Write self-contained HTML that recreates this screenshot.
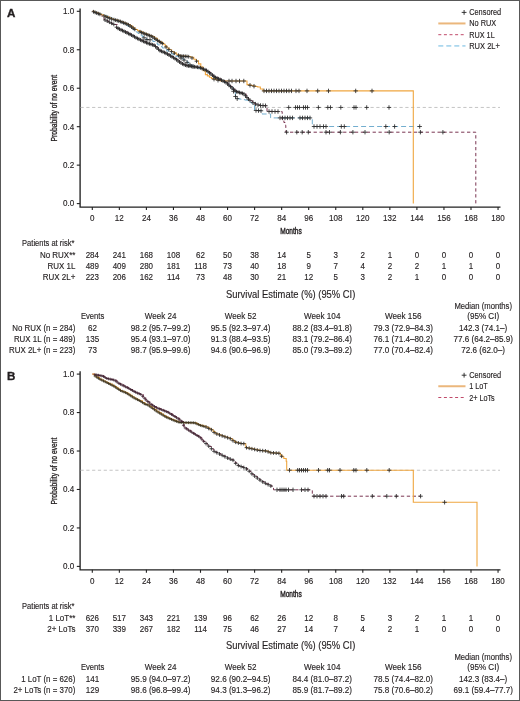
<!DOCTYPE html><html><head><meta charset="utf-8"><style>html,body{margin:0;padding:0;background:#fff;}svg{display:block;will-change:transform}text:not([stroke]){stroke:#231f20;stroke-width:0.14px}</style></head><body>
<svg width="520" height="701" viewBox="0 0 520 701" font-family="Liberation Sans, sans-serif" fill="#231f20">
<rect x="0" y="0" width="520" height="701" fill="#fff"/>
<text x="7.1" y="16.9" font-size="11.6" font-weight="bold" stroke="#231f20" stroke-width="0.35">A</text>
<path d="M80.1 8.5 V207.1 H500.5" fill="none" stroke="#222" stroke-width="1.35"/><path d="M76.8 203.6H80" stroke="#222" stroke-width="1.1"/><text x="63.09" y="206.45" font-size="8.4" textLength="11.21" lengthAdjust="spacingAndGlyphs">0.0</text><path d="M76.8 165.14H80" stroke="#222" stroke-width="1.1"/><text x="63.09" y="167.99" font-size="8.4" textLength="11.21" lengthAdjust="spacingAndGlyphs">0.2</text><path d="M76.8 126.68H80" stroke="#222" stroke-width="1.1"/><text x="63.09" y="129.53" font-size="8.4" textLength="11.21" lengthAdjust="spacingAndGlyphs">0.4</text><path d="M76.8 88.22H80" stroke="#222" stroke-width="1.1"/><text x="63.09" y="91.07" font-size="8.4" textLength="11.21" lengthAdjust="spacingAndGlyphs">0.6</text><path d="M76.8 49.76H80" stroke="#222" stroke-width="1.1"/><text x="63.09" y="52.61" font-size="8.4" textLength="11.21" lengthAdjust="spacingAndGlyphs">0.8</text><path d="M76.8 11.3H80" stroke="#222" stroke-width="1.1"/><text x="63.09" y="14.15" font-size="8.4" textLength="11.21" lengthAdjust="spacingAndGlyphs">1.0</text><path d="M92.3 207V210" stroke="#222" stroke-width="1.1"/><text x="90.06" y="220.90" font-size="8.4" textLength="4.48" lengthAdjust="spacingAndGlyphs">0</text><path d="M119.35 207V210" stroke="#222" stroke-width="1.1"/><text x="114.87" y="220.90" font-size="8.4" textLength="8.97" lengthAdjust="spacingAndGlyphs">12</text><path d="M146.4 207V210" stroke="#222" stroke-width="1.1"/><text x="141.92" y="220.90" font-size="8.4" textLength="8.97" lengthAdjust="spacingAndGlyphs">24</text><path d="M173.45 207V210" stroke="#222" stroke-width="1.1"/><text x="168.97" y="220.90" font-size="8.4" textLength="8.97" lengthAdjust="spacingAndGlyphs">36</text><path d="M200.5 207V210" stroke="#222" stroke-width="1.1"/><text x="196.02" y="220.90" font-size="8.4" textLength="8.97" lengthAdjust="spacingAndGlyphs">48</text><path d="M227.55 207V210" stroke="#222" stroke-width="1.1"/><text x="223.07" y="220.90" font-size="8.4" textLength="8.97" lengthAdjust="spacingAndGlyphs">60</text><path d="M254.6 207V210" stroke="#222" stroke-width="1.1"/><text x="250.12" y="220.90" font-size="8.4" textLength="8.97" lengthAdjust="spacingAndGlyphs">72</text><path d="M281.65 207V210" stroke="#222" stroke-width="1.1"/><text x="277.17" y="220.90" font-size="8.4" textLength="8.97" lengthAdjust="spacingAndGlyphs">84</text><path d="M308.7 207V210" stroke="#222" stroke-width="1.1"/><text x="304.22" y="220.90" font-size="8.4" textLength="8.97" lengthAdjust="spacingAndGlyphs">96</text><path d="M335.75 207V210" stroke="#222" stroke-width="1.1"/><text x="329.02" y="220.90" font-size="8.4" textLength="13.45" lengthAdjust="spacingAndGlyphs">108</text><path d="M362.8 207V210" stroke="#222" stroke-width="1.1"/><text x="356.07" y="220.90" font-size="8.4" textLength="13.45" lengthAdjust="spacingAndGlyphs">120</text><path d="M389.85 207V210" stroke="#222" stroke-width="1.1"/><text x="383.12" y="220.90" font-size="8.4" textLength="13.45" lengthAdjust="spacingAndGlyphs">132</text><path d="M416.9 207V210" stroke="#222" stroke-width="1.1"/><text x="410.17" y="220.90" font-size="8.4" textLength="13.45" lengthAdjust="spacingAndGlyphs">144</text><path d="M443.95 207V210" stroke="#222" stroke-width="1.1"/><text x="437.22" y="220.90" font-size="8.4" textLength="13.45" lengthAdjust="spacingAndGlyphs">156</text><path d="M471 207V210" stroke="#222" stroke-width="1.1"/><text x="464.27" y="220.90" font-size="8.4" textLength="13.45" lengthAdjust="spacingAndGlyphs">168</text><path d="M498.05 207V210" stroke="#222" stroke-width="1.1"/><text x="491.32" y="220.90" font-size="8.4" textLength="13.45" lengthAdjust="spacingAndGlyphs">180</text><text x="280.20" y="233.70" font-size="9.3" textLength="21.50" lengthAdjust="spacingAndGlyphs" stroke="#231f20" stroke-width="0.45">Months</text><text transform="translate(56.6 108.2) rotate(-90)" x="-33.4" y="0" font-size="8.3" textLength="66.8" lengthAdjust="spacingAndGlyphs" stroke="#231f20" stroke-width="0.3">Probability of no event</text><path d="M80.5 107.45H500" stroke="#BDBDBD" stroke-width="0.9" stroke-dasharray="3.2 2.6"/>
<g fill="none" stroke-width="1">
<path d="M92.3 11.3H94.42V12H96.53V12.7H98.65V13.4H100.77V14.1H102.88V14.8H105V15.5H107.06V16.39H109.11V17.27H111.17V18.16H113.23V19.04H115.29V19.93H117.34V20.81H119.4V21.7H121.52V22.86H123.64V24.02H125.76V25.18H127.88V26.34H130V27.5H132V29H134V30.5H136V32H138V33.5H140V35H142.13V36.5H144.27V38H146.4V39.5H148.4V39.65H150.4V39.8H152.8V41.47H155.2V43.15H157.6V44.83H160V46.5H162.25V48H164.5V49.5H166.75V51H169V52.5H171.25V54H173.5V55.5H175.93V56.33H178.37V57.17H180.8V58H183.1V59.5H185.4V61H187.7V63H190V65H192.5V66.25H195V67.5H197.5V68.25H200V69H202.12V70H204.25V71H206.38V72H208.5V73H211.07V74.83H213.63V76.67H216.2V78.5H218.73V79.77H221.27V81.03H223.8V82.3H225.87V83.6H227.93V84.9H230V86.2H233V90H235.4V96.2H236.2V98.5H238.46V98.9H240.72V99.3H242.98V99.7H245.24V100.1H247.5V100.5H249.75V102.25H252V104H254.5V110.4H257V110.53H259.5V110.67H262V110.8V114H270.6V117.9H312.3V126.5H419.8" stroke="#5A9FC6" stroke-width="0.85" stroke-dasharray="5 3"/>
<path d="M92.3 11.3H94.22V12.1H96.15V12.9H98.08V13.7H100V14.5H102V17H104V19.5H106V20.5H108V21.5H110V22.5H112V23.5H114V24.5H117.2V28H119.15V28.95H121.1V29.9H123.05V30.85H125V31.8H127.57V33.1H130.13V34.4H132.7V35.7H134.6V36.85H136.5V38H138.57V39H140.63V40H142.7V41H145.35V42.2H148V43.4H150.07V44.03H152.13V44.67H154.2V45.3H156.13V47.1H158.07V48.9H160V50.7H161.9V51.45H163.8V52.2H165.75V53.2H167.7V54.2H169.6V55.35H171.5V56.5H173.45V57.65H175.4V58.8H177.3V60.3H179.2V61.8H181.1V63H183V64.2H185V64.95H187V65.7H189.17V66.02H191.33V66.33H193.5V66.65H195.67V66.97H197.83V67.28H200V67.6H202.17V68.53H204.33V69.47H206.5V70.4H208.45V71.95H210.4V73.5H212.7V75.4H215V77.3H217.7V78.45H220.4V79.6H223.1V80.95H225.8V82.3H227.9V84.25H230V86.2H232V87.97H234V89.73H236V91.5H237.95V92.08H239.9V92.65H241.85V93.22H243.8V93.8H246.15V96.5H248.5V99.2H250.53V100.73H252.57V102.27H254.6V103.8H256.9V104.6H259.2V105.4H261.73V105.53H264.27V105.67H266.8V105.8H267V111.4H269.07V111.43H271.14V111.46H273.21V111.49H275.29V111.51H277.36V111.54H279.43V111.57H281.5V111.6H282.2V119.6H283.9V122.5H285.6V125.4H285.8V132.2H475.8V203.6" stroke="#7A3552" stroke-dasharray="3.3 2.6"/>
<path d="M92.3 11.3H94.52V12.18H96.74V13.06H98.96V13.94H101.18V14.82H103.4V15.7H105.93V16.73H108.47V17.77H111V18.8H113.33V19.48H115.65V20.15H117.97V20.82H120.3V21.5H122.22V22.25H124.15V23H126.08V23.75H128V24.5H130.33V26.17H132.67V27.83H135V29.5H137.57V30.67H140.13V31.83H142.7V33H145.02V33.88H147.35V34.75H149.68V35.62H152V36.5H154.65V38.4H157.3V40.3H159.37V41.6H161.43V42.9H163.5V44.2H165.2V46.1H166.9V48H169.2V49.75H171.5V51.5H173.85V52.85H176.2V54.2H178.1V55.1H180V56H182.57V56.17H185.13V56.33H187.7V56.5H190.8V57.2H193.8V59.2H196.2V60.8H198.5V63.9H200.8V67H203.1V70.8H205.4V74.6H207.43V75.9H209.47V77.2H211.5V78.5H213.82V79.12H216.15V79.75H218.48V80.38H220.8V81H245H247V84.6H249.14V85.08H251.28V85.56H253.42V86.04H255.56V86.52H257.7V87H260.35V88.95H263V90.9H413.3V203.6" stroke="#EFA640" stroke-width="1.1"/>
</g>
<path d="M91.6 11.78h3.8M93.5 9.88v3.8" stroke="#2a2a2a" stroke-width="0.85"/><path d="M93.2 12.41h3.8M95.1 10.51v3.8" stroke="#2a2a2a" stroke-width="0.85"/><path d="M94.8 13.04h3.8M96.7 11.14v3.8" stroke="#2a2a2a" stroke-width="0.85"/><path d="M96.4 13.68h3.8M98.3 11.78v3.8" stroke="#2a2a2a" stroke-width="0.85"/><path d="M98 14.31h3.8M99.9 12.41v3.8" stroke="#2a2a2a" stroke-width="0.85"/><path d="M102.1 15.94h3.8M104 14.04v3.8" stroke="#2a2a2a" stroke-width="0.85"/><path d="M104 16.72h3.8M105.9 14.82v3.8" stroke="#2a2a2a" stroke-width="0.85"/><path d="M105.9 17.49h3.8M107.8 15.59v3.8" stroke="#2a2a2a" stroke-width="0.85"/><path d="M107.8 18.27h3.8M109.7 16.37v3.8" stroke="#2a2a2a" stroke-width="0.85"/><path d="M109.7 18.97h3.8M111.6 17.07v3.8" stroke="#2a2a2a" stroke-width="0.85"/><path d="M112.1 19.67h3.8M114 17.77v3.8" stroke="#2a2a2a" stroke-width="0.85"/><path d="M113.7 20.14h3.8M115.6 18.24v3.8" stroke="#2a2a2a" stroke-width="0.85"/><path d="M115.3 20.6h3.8M117.2 18.7v3.8" stroke="#2a2a2a" stroke-width="0.85"/><path d="M116.9 21.06h3.8M118.8 19.16v3.8" stroke="#2a2a2a" stroke-width="0.85"/><path d="M118.5 21.54h3.8M120.4 19.64v3.8" stroke="#2a2a2a" stroke-width="0.85"/><path d="M120.1 22.16h3.8M122 20.26v3.8" stroke="#2a2a2a" stroke-width="0.85"/><path d="M121.7 22.79h3.8M123.6 20.89v3.8" stroke="#2a2a2a" stroke-width="0.85"/><path d="M123.3 23.41h3.8M125.2 21.51v3.8" stroke="#2a2a2a" stroke-width="0.85"/><path d="M124.9 24.03h3.8M126.8 22.13v3.8" stroke="#2a2a2a" stroke-width="0.85"/><path d="M126.5 24.79h3.8M128.4 22.89v3.8" stroke="#2a2a2a" stroke-width="0.85"/><path d="M128.1 25.93h3.8M130 24.03v3.8" stroke="#2a2a2a" stroke-width="0.85"/><path d="M129.7 27.07h3.8M131.6 25.17v3.8" stroke="#2a2a2a" stroke-width="0.85"/><path d="M131.3 28.21h3.8M133.2 26.31v3.8" stroke="#2a2a2a" stroke-width="0.85"/><path d="M132.9 29.36h3.8M134.8 27.46v3.8" stroke="#2a2a2a" stroke-width="0.85"/><path d="M138.1 31.77h3.8M140 29.87v3.8" stroke="#2a2a2a" stroke-width="0.85"/><path d="M139.7 32.5h3.8M141.6 30.6v3.8" stroke="#2a2a2a" stroke-width="0.85"/><path d="M141.3 33.19h3.8M143.2 31.29v3.8" stroke="#2a2a2a" stroke-width="0.85"/><path d="M142.9 33.79h3.8M144.8 31.89v3.8" stroke="#2a2a2a" stroke-width="0.85"/><path d="M144.5 34.39h3.8M146.4 32.49v3.8" stroke="#2a2a2a" stroke-width="0.85"/><path d="M146.1 34.99h3.8M148 33.09v3.8" stroke="#2a2a2a" stroke-width="0.85"/><path d="M147.7 35.6h3.8M149.6 33.7v3.8" stroke="#2a2a2a" stroke-width="0.85"/><path d="M149.3 36.2h3.8M151.2 34.3v3.8" stroke="#2a2a2a" stroke-width="0.85"/><path d="M150.9 37.07h3.8M152.8 35.17v3.8" stroke="#2a2a2a" stroke-width="0.85"/><path d="M152.5 38.22h3.8M154.4 36.32v3.8" stroke="#2a2a2a" stroke-width="0.85"/><path d="M154.1 39.37h3.8M156 37.47v3.8" stroke="#2a2a2a" stroke-width="0.85"/><path d="M155.7 40.49h3.8M157.6 38.59v3.8" stroke="#2a2a2a" stroke-width="0.85"/><path d="M157.3 41.5h3.8M159.2 39.6v3.8" stroke="#2a2a2a" stroke-width="0.85"/><path d="M158.9 42.5h3.8M160.8 40.6v3.8" stroke="#2a2a2a" stroke-width="0.85"/><path d="M160.5 43.51h3.8M162.4 41.61v3.8" stroke="#2a2a2a" stroke-width="0.85"/><path d="M164.1 46.99h3.8M166 45.09v3.8" stroke="#2a2a2a" stroke-width="0.85"/><path d="M166.9 49.45h3.8M168.8 47.55v3.8" stroke="#2a2a2a" stroke-width="0.85"/><path d="M169.7 51.56h3.8M171.6 49.66v3.8" stroke="#2a2a2a" stroke-width="0.85"/><path d="M172.5 53.17h3.8M174.4 51.27v3.8" stroke="#2a2a2a" stroke-width="0.85"/><path d="M176.6 55.29h3.8M178.5 53.39v3.8" stroke="#2a2a2a" stroke-width="0.85"/><path d="M178.3 56.01h3.8M180.2 54.11v3.8" stroke="#2a2a2a" stroke-width="0.85"/><path d="M180 56.12h3.8M181.9 54.22v3.8" stroke="#2a2a2a" stroke-width="0.85"/><path d="M181.7 56.23h3.8M183.6 54.33v3.8" stroke="#2a2a2a" stroke-width="0.85"/><path d="M183.4 56.34h3.8M185.3 54.44v3.8" stroke="#2a2a2a" stroke-width="0.85"/><path d="M185.1 56.45h3.8M187 54.55v3.8" stroke="#2a2a2a" stroke-width="0.85"/><path d="M186.8 56.73h3.8M188.7 54.83v3.8" stroke="#2a2a2a" stroke-width="0.85"/><path d="M190.1 58h3.8M192 56.1v3.8" stroke="#2a2a2a" stroke-width="0.85"/><path d="M194.6 61.2h3.8M196.5 59.3v3.8" stroke="#2a2a2a" stroke-width="0.85"/><path d="M211.8 79.17h4.4M214 76.97v4.4" stroke="#2b2b2b" stroke-width="0.85"/><path d="M215.8 80.25h4.4M218 78.05v4.4" stroke="#2b2b2b" stroke-width="0.85"/><path d="M226.8 81h4.4M229 78.8v4.4" stroke="#2b2b2b" stroke-width="0.85"/><path d="M229.8 81h4.4M232 78.8v4.4" stroke="#2b2b2b" stroke-width="0.85"/><path d="M233.8 81h4.4M236 78.8v4.4" stroke="#2b2b2b" stroke-width="0.85"/><path d="M237.3 81h4.4M239.5 78.8v4.4" stroke="#2b2b2b" stroke-width="0.85"/><path d="M241.6 81h4.4M243.8 78.8v4.4" stroke="#2b2b2b" stroke-width="0.85"/><path d="M247.8 85.27h4.4M250 83.07v4.4" stroke="#2b2b2b" stroke-width="0.85"/><path d="M251.8 86.17h4.4M254 83.97v4.4" stroke="#2b2b2b" stroke-width="0.85"/><path d="M261.8 90.9h4.4M264 88.7v4.4" stroke="#2b2b2b" stroke-width="0.85"/><path d="M264.3 90.9h4.4M266.5 88.7v4.4" stroke="#2b2b2b" stroke-width="0.85"/><path d="M266.8 90.9h4.4M269 88.7v4.4" stroke="#2b2b2b" stroke-width="0.85"/><path d="M269.3 90.9h4.4M271.5 88.7v4.4" stroke="#2b2b2b" stroke-width="0.85"/><path d="M271.8 90.9h4.4M274 88.7v4.4" stroke="#2b2b2b" stroke-width="0.85"/><path d="M274.3 90.9h4.4M276.5 88.7v4.4" stroke="#2b2b2b" stroke-width="0.85"/><path d="M276.8 90.9h4.4M279 88.7v4.4" stroke="#2b2b2b" stroke-width="0.85"/><path d="M279.3 90.9h4.4M281.5 88.7v4.4" stroke="#2b2b2b" stroke-width="0.85"/><path d="M281.8 90.9h4.4M284 88.7v4.4" stroke="#2b2b2b" stroke-width="0.85"/><path d="M284.3 90.9h4.4M286.5 88.7v4.4" stroke="#2b2b2b" stroke-width="0.85"/><path d="M286.8 90.9h4.4M289 88.7v4.4" stroke="#2b2b2b" stroke-width="0.85"/><path d="M289.3 90.9h4.4M291.5 88.7v4.4" stroke="#2b2b2b" stroke-width="0.85"/><path d="M293.8 90.9h4.4M296 88.7v4.4" stroke="#2b2b2b" stroke-width="0.85"/><path d="M296.8 90.9h4.4M299 88.7v4.4" stroke="#2b2b2b" stroke-width="0.85"/><path d="M304.8 90.9h4.4M307 88.7v4.4" stroke="#2b2b2b" stroke-width="0.85"/><path d="M315.5 90.9h4.4M317.7 88.7v4.4" stroke="#2b2b2b" stroke-width="0.85"/><path d="M326.3 90.9h4.4M328.5 88.7v4.4" stroke="#2b2b2b" stroke-width="0.85"/><path d="M353.5 90.9h4.4M355.7 88.7v4.4" stroke="#2b2b2b" stroke-width="0.85"/><path d="M369.8 90.9h4.4M372 88.7v4.4" stroke="#2b2b2b" stroke-width="0.85"/><path d="M103.1 20h3.8M105 18.1v3.8" stroke="#2a2a2a" stroke-width="0.85"/><path d="M105.3 21.1h3.8M107.2 19.2v3.8" stroke="#2a2a2a" stroke-width="0.85"/><path d="M107.5 22.2h3.8M109.4 20.3v3.8" stroke="#2a2a2a" stroke-width="0.85"/><path d="M109.7 23.3h3.8M111.6 21.4v3.8" stroke="#2a2a2a" stroke-width="0.85"/><path d="M111.9 24.4h3.8M113.8 22.5v3.8" stroke="#2a2a2a" stroke-width="0.85"/><path d="M114.6 27.23h3.8M116.5 25.33v3.8" stroke="#2a2a2a" stroke-width="0.85"/><path d="M116.1 28.39h3.8M118 26.49v3.8" stroke="#2a2a2a" stroke-width="0.85"/><path d="M117.6 29.12h3.8M119.5 27.22v3.8" stroke="#2a2a2a" stroke-width="0.85"/><path d="M119.1 29.85h3.8M121 27.95v3.8" stroke="#2a2a2a" stroke-width="0.85"/><path d="M120.6 30.58h3.8M122.5 28.68v3.8" stroke="#2a2a2a" stroke-width="0.85"/><path d="M122.1 31.31h3.8M124 29.41v3.8" stroke="#2a2a2a" stroke-width="0.85"/><path d="M123.6 32.05h3.8M125.5 30.15v3.8" stroke="#2a2a2a" stroke-width="0.85"/><path d="M125.1 32.81h3.8M127 30.91v3.8" stroke="#2a2a2a" stroke-width="0.85"/><path d="M126.6 33.57h3.8M128.5 31.67v3.8" stroke="#2a2a2a" stroke-width="0.85"/><path d="M128.1 34.33h3.8M130 32.43v3.8" stroke="#2a2a2a" stroke-width="0.85"/><path d="M129.6 35.09h3.8M131.5 33.19v3.8" stroke="#2a2a2a" stroke-width="0.85"/><path d="M131.1 35.88h3.8M133 33.98v3.8" stroke="#2a2a2a" stroke-width="0.85"/><path d="M132.6 36.79h3.8M134.5 34.89v3.8" stroke="#2a2a2a" stroke-width="0.85"/><path d="M134.1 37.7h3.8M136 35.8v3.8" stroke="#2a2a2a" stroke-width="0.85"/><path d="M135.6 38.48h3.8M137.5 36.58v3.8" stroke="#2a2a2a" stroke-width="0.85"/><path d="M137.1 39.21h3.8M139 37.31v3.8" stroke="#2a2a2a" stroke-width="0.85"/><path d="M138.6 39.94h3.8M140.5 38.04v3.8" stroke="#2a2a2a" stroke-width="0.85"/><path d="M140.1 40.66h3.8M142 38.76v3.8" stroke="#2a2a2a" stroke-width="0.85"/><path d="M141.6 41.36h3.8M143.5 39.46v3.8" stroke="#2a2a2a" stroke-width="0.85"/><path d="M143.1 42.04h3.8M145 40.14v3.8" stroke="#2a2a2a" stroke-width="0.85"/><path d="M144.6 42.72h3.8M146.5 40.82v3.8" stroke="#2a2a2a" stroke-width="0.85"/><path d="M146.1 43.4h3.8M148 41.5v3.8" stroke="#2a2a2a" stroke-width="0.85"/><path d="M147.6 43.86h3.8M149.5 41.96v3.8" stroke="#2a2a2a" stroke-width="0.85"/><path d="M149.1 44.32h3.8M151 42.42v3.8" stroke="#2a2a2a" stroke-width="0.85"/><path d="M150.6 44.78h3.8M152.5 42.88v3.8" stroke="#2a2a2a" stroke-width="0.85"/><path d="M152.1 45.24h3.8M154 43.34v3.8" stroke="#2a2a2a" stroke-width="0.85"/><path d="M153.6 46.51h3.8M155.5 44.61v3.8" stroke="#2a2a2a" stroke-width="0.85"/><path d="M155.1 47.91h3.8M157 46.01v3.8" stroke="#2a2a2a" stroke-width="0.85"/><path d="M156.6 49.3h3.8M158.5 47.4v3.8" stroke="#2a2a2a" stroke-width="0.85"/><path d="M158.1 50.7h3.8M160 48.8v3.8" stroke="#2a2a2a" stroke-width="0.85"/><path d="M159.6 51.29h3.8M161.5 49.39v3.8" stroke="#2a2a2a" stroke-width="0.85"/><path d="M161.1 51.88h3.8M163 49.98v3.8" stroke="#2a2a2a" stroke-width="0.85"/><path d="M162.6 52.56h3.8M164.5 50.66v3.8" stroke="#2a2a2a" stroke-width="0.85"/><path d="M164.1 53.33h3.8M166 51.43v3.8" stroke="#2a2a2a" stroke-width="0.85"/><path d="M165.6 54.1h3.8M167.5 52.2v3.8" stroke="#2a2a2a" stroke-width="0.85"/><path d="M167.1 54.99h3.8M169 53.09v3.8" stroke="#2a2a2a" stroke-width="0.85"/><path d="M168.6 55.89h3.8M170.5 53.99v3.8" stroke="#2a2a2a" stroke-width="0.85"/><path d="M170.1 56.79h3.8M172 54.89v3.8" stroke="#2a2a2a" stroke-width="0.85"/><path d="M171.6 57.68h3.8M173.5 55.78v3.8" stroke="#2a2a2a" stroke-width="0.85"/><path d="M173.1 58.56h3.8M175 56.66v3.8" stroke="#2a2a2a" stroke-width="0.85"/><path d="M174.6 59.67h3.8M176.5 57.77v3.8" stroke="#2a2a2a" stroke-width="0.85"/><path d="M176.1 60.85h3.8M178 58.95v3.8" stroke="#2a2a2a" stroke-width="0.85"/><path d="M177.6 61.99h3.8M179.5 60.09v3.8" stroke="#2a2a2a" stroke-width="0.85"/><path d="M179.1 62.94h3.8M181 61.04v3.8" stroke="#2a2a2a" stroke-width="0.85"/><path d="M180.6 63.88h3.8M182.5 61.98v3.8" stroke="#2a2a2a" stroke-width="0.85"/><path d="M182.1 64.58h3.8M184 62.68v3.8" stroke="#2a2a2a" stroke-width="0.85"/><path d="M183.6 65.14h3.8M185.5 63.24v3.8" stroke="#2a2a2a" stroke-width="0.85"/><path d="M185.1 65.7h3.8M187 63.8v3.8" stroke="#2a2a2a" stroke-width="0.85"/><path d="M186.6 65.92h3.8M188.5 64.02v3.8" stroke="#2a2a2a" stroke-width="0.85"/><path d="M188.1 66.14h3.8M190 64.24v3.8" stroke="#2a2a2a" stroke-width="0.85"/><path d="M189.6 66.36h3.8M191.5 64.46v3.8" stroke="#2a2a2a" stroke-width="0.85"/><path d="M191.1 66.58h3.8M193 64.68v3.8" stroke="#2a2a2a" stroke-width="0.85"/><path d="M192.6 66.8h3.8M194.5 64.9v3.8" stroke="#2a2a2a" stroke-width="0.85"/><path d="M194.1 67.02h3.8M196 65.12v3.8" stroke="#2a2a2a" stroke-width="0.85"/><path d="M195.6 67.23h3.8M197.5 65.33v3.8" stroke="#2a2a2a" stroke-width="0.85"/><path d="M197.1 67.45h3.8M199 65.55v3.8" stroke="#2a2a2a" stroke-width="0.85"/><path d="M198.6 67.82h3.8M200.5 65.92v3.8" stroke="#2a2a2a" stroke-width="0.85"/><path d="M200.1 68.46h3.8M202 66.56v3.8" stroke="#2a2a2a" stroke-width="0.85"/><path d="M201.6 69.11h3.8M203.5 67.21v3.8" stroke="#2a2a2a" stroke-width="0.85"/><path d="M203.1 69.75h3.8M205 67.85v3.8" stroke="#2a2a2a" stroke-width="0.85"/><path d="M204.6 70.4h3.8M206.5 68.5v3.8" stroke="#2a2a2a" stroke-width="0.85"/><path d="M206.1 71.59h3.8M208 69.69v3.8" stroke="#2a2a2a" stroke-width="0.85"/><path d="M207.6 72.78h3.8M209.5 70.88v3.8" stroke="#2a2a2a" stroke-width="0.85"/><path d="M209.1 74h3.8M211 72.1v3.8" stroke="#2a2a2a" stroke-width="0.85"/><path d="M210.6 75.23h3.8M212.5 73.33v3.8" stroke="#2a2a2a" stroke-width="0.85"/><path d="M212.1 76.47h3.8M214 74.57v3.8" stroke="#2a2a2a" stroke-width="0.85"/><path d="M213.6 77.51h3.8M215.5 75.61v3.8" stroke="#2a2a2a" stroke-width="0.85"/><path d="M215.1 78.15h3.8M217 76.25v3.8" stroke="#2a2a2a" stroke-width="0.85"/><path d="M216.6 78.79h3.8M218.5 76.89v3.8" stroke="#2a2a2a" stroke-width="0.85"/><path d="M218.1 79.43h3.8M220 77.53v3.8" stroke="#2a2a2a" stroke-width="0.85"/><path d="M219.6 80.15h3.8M221.5 78.25v3.8" stroke="#2a2a2a" stroke-width="0.85"/><path d="M221.1 80.9h3.8M223 79v3.8" stroke="#2a2a2a" stroke-width="0.85"/><path d="M222.6 81.65h3.8M224.5 79.75v3.8" stroke="#2a2a2a" stroke-width="0.85"/><path d="M224.1 82.49h3.8M226 80.59v3.8" stroke="#2a2a2a" stroke-width="0.85"/><path d="M225.6 83.88h3.8M227.5 81.98v3.8" stroke="#2a2a2a" stroke-width="0.85"/><path d="M227.1 85.27h3.8M229 83.37v3.8" stroke="#2a2a2a" stroke-width="0.85"/><path d="M228.6 86.64h3.8M230.5 84.74v3.8" stroke="#2a2a2a" stroke-width="0.85"/><path d="M230.1 87.97h3.8M232 86.07v3.8" stroke="#2a2a2a" stroke-width="0.85"/><path d="M231.6 89.29h3.8M233.5 87.39v3.8" stroke="#2a2a2a" stroke-width="0.85"/><path d="M233.1 90.62h3.8M235 88.72v3.8" stroke="#2a2a2a" stroke-width="0.85"/><path d="M234.6 91.65h3.8M236.5 89.75v3.8" stroke="#2a2a2a" stroke-width="0.85"/><path d="M236.1 92.09h3.8M238 90.19v3.8" stroke="#2a2a2a" stroke-width="0.85"/><path d="M237.6 92.53h3.8M239.5 90.63v3.8" stroke="#2a2a2a" stroke-width="0.85"/><path d="M239.1 92.97h3.8M241 91.07v3.8" stroke="#2a2a2a" stroke-width="0.85"/><path d="M240.6 93.42h3.8M242.5 91.52v3.8" stroke="#2a2a2a" stroke-width="0.85"/><path d="M242.1 94.03h3.8M244 92.13v3.8" stroke="#2a2a2a" stroke-width="0.85"/><path d="M243.6 95.75h3.8M245.5 93.85v3.8" stroke="#2a2a2a" stroke-width="0.85"/><path d="M245.1 97.48h3.8M247 95.58v3.8" stroke="#2a2a2a" stroke-width="0.85"/><path d="M246.6 99.2h3.8M248.5 97.3v3.8" stroke="#2a2a2a" stroke-width="0.85"/><path d="M248.1 100.33h3.8M250 98.43v3.8" stroke="#2a2a2a" stroke-width="0.85"/><path d="M250.8 102.59h4.4M253 100.39v4.4" stroke="#2b2b2b" stroke-width="0.85"/><path d="M253.3 104.11h4.4M255.5 101.91v4.4" stroke="#2b2b2b" stroke-width="0.85"/><path d="M255.8 104.98h4.4M258 102.78v4.4" stroke="#2b2b2b" stroke-width="0.85"/><path d="M258.3 105.47h4.4M260.5 103.27v4.4" stroke="#2b2b2b" stroke-width="0.85"/><path d="M260.8 105.6h4.4M263 103.4v4.4" stroke="#2b2b2b" stroke-width="0.85"/><path d="M263.3 105.73h4.4M265.5 103.53v4.4" stroke="#2b2b2b" stroke-width="0.85"/><path d="M266.8 111.43h4.4M269 109.23v4.4" stroke="#2b2b2b" stroke-width="0.85"/><path d="M269.8 111.47h4.4M272 109.27v4.4" stroke="#2b2b2b" stroke-width="0.85"/><path d="M272.8 111.51h4.4M275 109.31v4.4" stroke="#2b2b2b" stroke-width="0.85"/><path d="M275.8 111.55h4.4M278 109.35v4.4" stroke="#2b2b2b" stroke-width="0.85"/><path d="M284.4 132.2h4.4M286.6 130v4.4" stroke="#2b2b2b" stroke-width="0.85"/><path d="M294.6 132.2h4.4M296.8 130v4.4" stroke="#2b2b2b" stroke-width="0.85"/><path d="M300 132.2h4.4M302.2 130v4.4" stroke="#2b2b2b" stroke-width="0.85"/><path d="M306.1 132.2h4.4M308.3 130v4.4" stroke="#2b2b2b" stroke-width="0.85"/><path d="M323.8 132.2h4.4M326 130v4.4" stroke="#2b2b2b" stroke-width="0.85"/><path d="M327.3 132.2h4.4M329.5 130v4.4" stroke="#2b2b2b" stroke-width="0.85"/><path d="M338.2 132.2h4.4M340.4 130v4.4" stroke="#2b2b2b" stroke-width="0.85"/><path d="M350.7 132.2h4.4M352.9 130v4.4" stroke="#2b2b2b" stroke-width="0.85"/><path d="M362.8 132.2h4.4M365 130v4.4" stroke="#2b2b2b" stroke-width="0.85"/><path d="M387 132.2h4.4M389.2 130v4.4" stroke="#2b2b2b" stroke-width="0.85"/><path d="M418.2 132.2h4.4M420.4 130v4.4" stroke="#2b2b2b" stroke-width="0.85"/><path d="M440.7 132.2h4.4M442.9 130v4.4" stroke="#2b2b2b" stroke-width="0.85"/><path d="M141.8 37.81h4.4M144 35.61v4.4" stroke="#2b2b2b" stroke-width="0.85"/><path d="M144.8 39.55h4.4M147 37.34v4.4" stroke="#2b2b2b" stroke-width="0.85"/><path d="M147.8 39.77h4.4M150 37.57v4.4" stroke="#2b2b2b" stroke-width="0.85"/><path d="M178.8 58.13h4.4M181 55.93v4.4" stroke="#2b2b2b" stroke-width="0.85"/><path d="M181.8 60.09h4.4M184 57.89v4.4" stroke="#2b2b2b" stroke-width="0.85"/><path d="M184.8 62.39h4.4M187 60.19v4.4" stroke="#2b2b2b" stroke-width="0.85"/><path d="M187.8 65h4.4M190 62.8v4.4" stroke="#2b2b2b" stroke-width="0.85"/><path d="M190.8 66.5h4.4M193 64.3v4.4" stroke="#2b2b2b" stroke-width="0.85"/><path d="M231.3 91.29h4.4M233.5 89.09v4.4" stroke="#2b2b2b" stroke-width="0.85"/><path d="M233.3 96.49h4.4M235.5 94.29v4.4" stroke="#2b2b2b" stroke-width="0.85"/><path d="M235 98.68h4.4M237.2 96.48v4.4" stroke="#2b2b2b" stroke-width="0.85"/><path d="M253.8 110.48h4.4M256 108.28v4.4" stroke="#2b2b2b" stroke-width="0.85"/><path d="M256.3 110.61h4.4M258.5 108.41v4.4" stroke="#2b2b2b" stroke-width="0.85"/><path d="M258.8 110.75h4.4M261 108.55v4.4" stroke="#2b2b2b" stroke-width="0.85"/><path d="M277.8 117.9h4.4M280 115.7v4.4" stroke="#2b2b2b" stroke-width="0.85"/><path d="M280.3 117.9h4.4M282.5 115.7v4.4" stroke="#2b2b2b" stroke-width="0.85"/><path d="M282.8 117.9h4.4M285 115.7v4.4" stroke="#2b2b2b" stroke-width="0.85"/><path d="M285.3 117.9h4.4M287.5 115.7v4.4" stroke="#2b2b2b" stroke-width="0.85"/><path d="M287.8 117.9h4.4M290 115.7v4.4" stroke="#2b2b2b" stroke-width="0.85"/><path d="M290.3 117.9h4.4M292.5 115.7v4.4" stroke="#2b2b2b" stroke-width="0.85"/><path d="M297.8 117.9h4.4M300 115.7v4.4" stroke="#2b2b2b" stroke-width="0.85"/><path d="M300.3 117.9h4.4M302.5 115.7v4.4" stroke="#2b2b2b" stroke-width="0.85"/><path d="M302.8 117.9h4.4M305 115.7v4.4" stroke="#2b2b2b" stroke-width="0.85"/><path d="M305.3 117.9h4.4M307.5 115.7v4.4" stroke="#2b2b2b" stroke-width="0.85"/><path d="M307.8 117.9h4.4M310 115.7v4.4" stroke="#2b2b2b" stroke-width="0.85"/><path d="M311.8 126.5h4.4M314 124.3v4.4" stroke="#2b2b2b" stroke-width="0.85"/><path d="M314.8 126.5h4.4M317 124.3v4.4" stroke="#2b2b2b" stroke-width="0.85"/><path d="M317.8 126.5h4.4M320 124.3v4.4" stroke="#2b2b2b" stroke-width="0.85"/><path d="M321.3 126.5h4.4M323.5 124.3v4.4" stroke="#2b2b2b" stroke-width="0.85"/><path d="M323.8 126.5h4.4M326 124.3v4.4" stroke="#2b2b2b" stroke-width="0.85"/><path d="M339.1 126.5h4.4M341.3 124.3v4.4" stroke="#2b2b2b" stroke-width="0.85"/><path d="M342.1 126.5h4.4M344.3 124.3v4.4" stroke="#2b2b2b" stroke-width="0.85"/><path d="M383.6 126.5h4.4M385.8 124.3v4.4" stroke="#2b2b2b" stroke-width="0.85"/><path d="M392.4 126.5h4.4M394.6 124.3v4.4" stroke="#2b2b2b" stroke-width="0.85"/><path d="M417.5 126.5h4.4M419.7 124.3v4.4" stroke="#2b2b2b" stroke-width="0.85"/><path d="M286.5 107.45h4.4M288.7 105.25v4.4" stroke="#2b2b2b" stroke-width="0.85"/><path d="M293.3 107.45h4.4M295.5 105.25v4.4" stroke="#2b2b2b" stroke-width="0.85"/><path d="M295.3 107.45h4.4M297.5 105.25v4.4" stroke="#2b2b2b" stroke-width="0.85"/><path d="M297.3 107.45h4.4M299.5 105.25v4.4" stroke="#2b2b2b" stroke-width="0.85"/><path d="M301.3 107.45h4.4M303.5 105.25v4.4" stroke="#2b2b2b" stroke-width="0.85"/><path d="M303.3 107.45h4.4M305.5 105.25v4.4" stroke="#2b2b2b" stroke-width="0.85"/><path d="M305.3 107.45h4.4M307.5 105.25v4.4" stroke="#2b2b2b" stroke-width="0.85"/><path d="M316.2 107.45h4.4M318.4 105.25v4.4" stroke="#2b2b2b" stroke-width="0.85"/><path d="M325.6 107.45h4.4M327.8 105.25v4.4" stroke="#2b2b2b" stroke-width="0.85"/><path d="M328.3 107.45h4.4M330.5 105.25v4.4" stroke="#2b2b2b" stroke-width="0.85"/><path d="M338.6 107.45h4.4M340.8 105.25v4.4" stroke="#2b2b2b" stroke-width="0.85"/><path d="M351.8 107.45h4.4M354 105.25v4.4" stroke="#2b2b2b" stroke-width="0.85"/><path d="M353.8 107.45h4.4M356 105.25v4.4" stroke="#2b2b2b" stroke-width="0.85"/><path d="M364.5 107.45h4.4M366.7 105.25v4.4" stroke="#2b2b2b" stroke-width="0.85"/><path d="M386.8 107.45h4.4M389 105.25v4.4" stroke="#2b2b2b" stroke-width="0.85"/>
<path d="M461.7 12.4h4.8M464.1 10v4.8" stroke="#222" stroke-width="0.9"/><text x="469.20" y="15.20" font-size="8.4" textLength="32.00" lengthAdjust="spacingAndGlyphs">Censored</text><path d="M438.3 23.45H465.5" stroke="#EBB77C" stroke-width="2"/><text x="469.20" y="26.45" font-size="8.4" textLength="27.00" lengthAdjust="spacingAndGlyphs">No RUX</text><path d="M438.3 34.7H465.5" stroke="#C04A6A" stroke-width="1" stroke-dasharray="3 2.6"/><text x="469.20" y="37.70" font-size="8.4" textLength="25.50" lengthAdjust="spacingAndGlyphs">RUX 1L</text><path d="M438.3 45.95H465.5" stroke="#6BB8E0" stroke-width="1" stroke-dasharray="5 3"/><text x="469.20" y="48.95" font-size="8.4" textLength="30.70" lengthAdjust="spacingAndGlyphs">RUX 2L+</text>
<text x="22.10" y="245.90" font-size="8.4" textLength="52.30" lengthAdjust="spacingAndGlyphs">Patients at risk*</text><text x="39.92" y="257.90" font-size="8.4" textLength="35.48" lengthAdjust="spacingAndGlyphs">No RUX**</text><text x="85.64" y="257.90" font-size="8.4" textLength="13.31" lengthAdjust="spacingAndGlyphs">284</text><text x="112.69" y="257.90" font-size="8.4" textLength="13.31" lengthAdjust="spacingAndGlyphs">241</text><text x="139.74" y="257.90" font-size="8.4" textLength="13.31" lengthAdjust="spacingAndGlyphs">168</text><text x="166.79" y="257.90" font-size="8.4" textLength="13.31" lengthAdjust="spacingAndGlyphs">108</text><text x="196.06" y="257.90" font-size="8.4" textLength="8.88" lengthAdjust="spacingAndGlyphs">62</text><text x="223.11" y="257.90" font-size="8.4" textLength="8.88" lengthAdjust="spacingAndGlyphs">50</text><text x="250.16" y="257.90" font-size="8.4" textLength="8.88" lengthAdjust="spacingAndGlyphs">38</text><text x="277.21" y="257.90" font-size="8.4" textLength="8.88" lengthAdjust="spacingAndGlyphs">14</text><text x="306.48" y="257.90" font-size="8.4" textLength="4.44" lengthAdjust="spacingAndGlyphs">5</text><text x="333.53" y="257.90" font-size="8.4" textLength="4.44" lengthAdjust="spacingAndGlyphs">3</text><text x="360.58" y="257.90" font-size="8.4" textLength="4.44" lengthAdjust="spacingAndGlyphs">2</text><text x="387.63" y="257.90" font-size="8.4" textLength="4.44" lengthAdjust="spacingAndGlyphs">1</text><text x="414.68" y="257.90" font-size="8.4" textLength="4.44" lengthAdjust="spacingAndGlyphs">0</text><text x="441.73" y="257.90" font-size="8.4" textLength="4.44" lengthAdjust="spacingAndGlyphs">0</text><text x="468.78" y="257.90" font-size="8.4" textLength="4.44" lengthAdjust="spacingAndGlyphs">0</text><text x="495.83" y="257.90" font-size="8.4" textLength="4.44" lengthAdjust="spacingAndGlyphs">0</text><text x="47.46" y="269.15" font-size="8.4" textLength="27.94" lengthAdjust="spacingAndGlyphs">RUX 1L</text><text x="85.64" y="269.15" font-size="8.4" textLength="13.31" lengthAdjust="spacingAndGlyphs">489</text><text x="112.69" y="269.15" font-size="8.4" textLength="13.31" lengthAdjust="spacingAndGlyphs">409</text><text x="139.74" y="269.15" font-size="8.4" textLength="13.31" lengthAdjust="spacingAndGlyphs">280</text><text x="166.79" y="269.15" font-size="8.4" textLength="13.31" lengthAdjust="spacingAndGlyphs">181</text><text x="194.14" y="269.15" font-size="8.4" textLength="12.72" lengthAdjust="spacingAndGlyphs">118</text><text x="223.11" y="269.15" font-size="8.4" textLength="8.88" lengthAdjust="spacingAndGlyphs">73</text><text x="250.16" y="269.15" font-size="8.4" textLength="8.88" lengthAdjust="spacingAndGlyphs">40</text><text x="277.21" y="269.15" font-size="8.4" textLength="8.88" lengthAdjust="spacingAndGlyphs">18</text><text x="306.48" y="269.15" font-size="8.4" textLength="4.44" lengthAdjust="spacingAndGlyphs">9</text><text x="333.53" y="269.15" font-size="8.4" textLength="4.44" lengthAdjust="spacingAndGlyphs">7</text><text x="360.58" y="269.15" font-size="8.4" textLength="4.44" lengthAdjust="spacingAndGlyphs">4</text><text x="387.63" y="269.15" font-size="8.4" textLength="4.44" lengthAdjust="spacingAndGlyphs">2</text><text x="414.68" y="269.15" font-size="8.4" textLength="4.44" lengthAdjust="spacingAndGlyphs">2</text><text x="441.73" y="269.15" font-size="8.4" textLength="4.44" lengthAdjust="spacingAndGlyphs">1</text><text x="468.78" y="269.15" font-size="8.4" textLength="4.44" lengthAdjust="spacingAndGlyphs">1</text><text x="495.83" y="269.15" font-size="8.4" textLength="4.44" lengthAdjust="spacingAndGlyphs">0</text><text x="42.80" y="280.40" font-size="8.4" textLength="32.60" lengthAdjust="spacingAndGlyphs">RUX 2L+</text><text x="85.64" y="280.40" font-size="8.4" textLength="13.31" lengthAdjust="spacingAndGlyphs">223</text><text x="112.69" y="280.40" font-size="8.4" textLength="13.31" lengthAdjust="spacingAndGlyphs">206</text><text x="139.74" y="280.40" font-size="8.4" textLength="13.31" lengthAdjust="spacingAndGlyphs">162</text><text x="167.09" y="280.40" font-size="8.4" textLength="12.72" lengthAdjust="spacingAndGlyphs">114</text><text x="196.06" y="280.40" font-size="8.4" textLength="8.88" lengthAdjust="spacingAndGlyphs">73</text><text x="223.11" y="280.40" font-size="8.4" textLength="8.88" lengthAdjust="spacingAndGlyphs">48</text><text x="250.16" y="280.40" font-size="8.4" textLength="8.88" lengthAdjust="spacingAndGlyphs">30</text><text x="277.21" y="280.40" font-size="8.4" textLength="8.88" lengthAdjust="spacingAndGlyphs">21</text><text x="304.26" y="280.40" font-size="8.4" textLength="8.88" lengthAdjust="spacingAndGlyphs">12</text><text x="333.53" y="280.40" font-size="8.4" textLength="4.44" lengthAdjust="spacingAndGlyphs">5</text><text x="360.58" y="280.40" font-size="8.4" textLength="4.44" lengthAdjust="spacingAndGlyphs">3</text><text x="387.63" y="280.40" font-size="8.4" textLength="4.44" lengthAdjust="spacingAndGlyphs">2</text><text x="414.68" y="280.40" font-size="8.4" textLength="4.44" lengthAdjust="spacingAndGlyphs">1</text><text x="441.73" y="280.40" font-size="8.4" textLength="4.44" lengthAdjust="spacingAndGlyphs">0</text><text x="468.78" y="280.40" font-size="8.4" textLength="4.44" lengthAdjust="spacingAndGlyphs">0</text><text x="495.83" y="280.40" font-size="8.4" textLength="4.44" lengthAdjust="spacingAndGlyphs">0</text>
<text x="226.00" y="297.60" font-size="10.3" textLength="129.30" lengthAdjust="spacingAndGlyphs">Survival Estimate (%) (95% CI)</text><text x="80.90" y="318.90" font-size="8.4" textLength="23.40" lengthAdjust="spacingAndGlyphs">Events</text><text x="144.80" y="318.70" font-size="8.4" textLength="31.60" lengthAdjust="spacingAndGlyphs">Week 24</text><text x="224.80" y="318.70" font-size="8.4" textLength="31.60" lengthAdjust="spacingAndGlyphs">Week 52</text><text x="304.00" y="318.70" font-size="8.4" textLength="36.40" lengthAdjust="spacingAndGlyphs">Week 104</text><text x="384.90" y="318.70" font-size="8.4" textLength="36.60" lengthAdjust="spacingAndGlyphs">Week 156</text><text x="454.40" y="308.90" font-size="8.4" textLength="57.60" lengthAdjust="spacingAndGlyphs">Median (months)</text><text x="467.20" y="319.00" font-size="8.4" textLength="32.00" lengthAdjust="spacingAndGlyphs">(95% CI)</text><text x="12.32" y="330.50" font-size="8.4" textLength="62.98" lengthAdjust="spacingAndGlyphs">No RUX (n = 284)</text><text x="88.12" y="330.50" font-size="8.4" textLength="8.97" lengthAdjust="spacingAndGlyphs">62</text><text x="130.86" y="330.50" font-size="8.4" textLength="59.49" lengthAdjust="spacingAndGlyphs">98.2 (95.7–99.2)</text><text x="210.86" y="330.50" font-size="8.4" textLength="59.49" lengthAdjust="spacingAndGlyphs">95.5 (92.3–97.4)</text><text x="292.46" y="330.50" font-size="8.4" textLength="59.49" lengthAdjust="spacingAndGlyphs">88.2 (83.4–91.8)</text><text x="373.46" y="330.50" font-size="8.4" textLength="59.49" lengthAdjust="spacingAndGlyphs">79.3 (72.9–84.3)</text><text x="459.09" y="330.50" font-size="8.4" textLength="48.22" lengthAdjust="spacingAndGlyphs">142.3 (74.1–)</text><text x="13.93" y="341.55" font-size="8.4" textLength="61.37" lengthAdjust="spacingAndGlyphs">RUX 1L (n = 489)</text><text x="85.87" y="341.55" font-size="8.4" textLength="13.45" lengthAdjust="spacingAndGlyphs">135</text><text x="130.86" y="341.55" font-size="8.4" textLength="59.49" lengthAdjust="spacingAndGlyphs">95.4 (93.1–97.0)</text><text x="210.86" y="341.55" font-size="8.4" textLength="59.49" lengthAdjust="spacingAndGlyphs">91.3 (88.4–93.5)</text><text x="292.46" y="341.55" font-size="8.4" textLength="59.49" lengthAdjust="spacingAndGlyphs">83.1 (79.2–86.4)</text><text x="373.46" y="341.55" font-size="8.4" textLength="59.49" lengthAdjust="spacingAndGlyphs">76.1 (71.4–80.2)</text><text x="453.46" y="341.55" font-size="8.4" textLength="59.49" lengthAdjust="spacingAndGlyphs">77.6 (64.2–85.9)</text><text x="9.02" y="352.60" font-size="8.4" textLength="66.28" lengthAdjust="spacingAndGlyphs">RUX 2L+ (n = 223)</text><text x="88.12" y="352.60" font-size="8.4" textLength="8.97" lengthAdjust="spacingAndGlyphs">73</text><text x="130.86" y="352.60" font-size="8.4" textLength="59.49" lengthAdjust="spacingAndGlyphs">98.7 (95.9–99.6)</text><text x="210.86" y="352.60" font-size="8.4" textLength="59.49" lengthAdjust="spacingAndGlyphs">94.6 (90.6–96.9)</text><text x="292.46" y="352.60" font-size="8.4" textLength="59.49" lengthAdjust="spacingAndGlyphs">85.0 (79.3–89.2)</text><text x="373.46" y="352.60" font-size="8.4" textLength="59.49" lengthAdjust="spacingAndGlyphs">77.0 (70.4–82.4)</text><text x="461.34" y="352.60" font-size="8.4" textLength="43.71" lengthAdjust="spacingAndGlyphs">72.6 (62.0–)</text>
<text x="7.1" y="380" font-size="11.6" font-weight="bold" stroke="#231f20" stroke-width="0.35">B</text>
<path d="M80.1 371.3 V569.9 H500.5" fill="none" stroke="#222" stroke-width="1.35"/><path d="M76.8 566.4H80" stroke="#222" stroke-width="1.1"/><text x="63.09" y="569.25" font-size="8.4" textLength="11.21" lengthAdjust="spacingAndGlyphs">0.0</text><path d="M76.8 527.94H80" stroke="#222" stroke-width="1.1"/><text x="63.09" y="530.79" font-size="8.4" textLength="11.21" lengthAdjust="spacingAndGlyphs">0.2</text><path d="M76.8 489.48H80" stroke="#222" stroke-width="1.1"/><text x="63.09" y="492.33" font-size="8.4" textLength="11.21" lengthAdjust="spacingAndGlyphs">0.4</text><path d="M76.8 451.02H80" stroke="#222" stroke-width="1.1"/><text x="63.09" y="453.87" font-size="8.4" textLength="11.21" lengthAdjust="spacingAndGlyphs">0.6</text><path d="M76.8 412.56H80" stroke="#222" stroke-width="1.1"/><text x="63.09" y="415.41" font-size="8.4" textLength="11.21" lengthAdjust="spacingAndGlyphs">0.8</text><path d="M76.8 374.1H80" stroke="#222" stroke-width="1.1"/><text x="63.09" y="376.95" font-size="8.4" textLength="11.21" lengthAdjust="spacingAndGlyphs">1.0</text><path d="M92.3 569.8V572.8" stroke="#222" stroke-width="1.1"/><text x="90.06" y="583.70" font-size="8.4" textLength="4.48" lengthAdjust="spacingAndGlyphs">0</text><path d="M119.35 569.8V572.8" stroke="#222" stroke-width="1.1"/><text x="114.87" y="583.70" font-size="8.4" textLength="8.97" lengthAdjust="spacingAndGlyphs">12</text><path d="M146.4 569.8V572.8" stroke="#222" stroke-width="1.1"/><text x="141.92" y="583.70" font-size="8.4" textLength="8.97" lengthAdjust="spacingAndGlyphs">24</text><path d="M173.45 569.8V572.8" stroke="#222" stroke-width="1.1"/><text x="168.97" y="583.70" font-size="8.4" textLength="8.97" lengthAdjust="spacingAndGlyphs">36</text><path d="M200.5 569.8V572.8" stroke="#222" stroke-width="1.1"/><text x="196.02" y="583.70" font-size="8.4" textLength="8.97" lengthAdjust="spacingAndGlyphs">48</text><path d="M227.55 569.8V572.8" stroke="#222" stroke-width="1.1"/><text x="223.07" y="583.70" font-size="8.4" textLength="8.97" lengthAdjust="spacingAndGlyphs">60</text><path d="M254.6 569.8V572.8" stroke="#222" stroke-width="1.1"/><text x="250.12" y="583.70" font-size="8.4" textLength="8.97" lengthAdjust="spacingAndGlyphs">72</text><path d="M281.65 569.8V572.8" stroke="#222" stroke-width="1.1"/><text x="277.17" y="583.70" font-size="8.4" textLength="8.97" lengthAdjust="spacingAndGlyphs">84</text><path d="M308.7 569.8V572.8" stroke="#222" stroke-width="1.1"/><text x="304.22" y="583.70" font-size="8.4" textLength="8.97" lengthAdjust="spacingAndGlyphs">96</text><path d="M335.75 569.8V572.8" stroke="#222" stroke-width="1.1"/><text x="329.02" y="583.70" font-size="8.4" textLength="13.45" lengthAdjust="spacingAndGlyphs">108</text><path d="M362.8 569.8V572.8" stroke="#222" stroke-width="1.1"/><text x="356.07" y="583.70" font-size="8.4" textLength="13.45" lengthAdjust="spacingAndGlyphs">120</text><path d="M389.85 569.8V572.8" stroke="#222" stroke-width="1.1"/><text x="383.12" y="583.70" font-size="8.4" textLength="13.45" lengthAdjust="spacingAndGlyphs">132</text><path d="M416.9 569.8V572.8" stroke="#222" stroke-width="1.1"/><text x="410.17" y="583.70" font-size="8.4" textLength="13.45" lengthAdjust="spacingAndGlyphs">144</text><path d="M443.95 569.8V572.8" stroke="#222" stroke-width="1.1"/><text x="437.22" y="583.70" font-size="8.4" textLength="13.45" lengthAdjust="spacingAndGlyphs">156</text><path d="M471 569.8V572.8" stroke="#222" stroke-width="1.1"/><text x="464.27" y="583.70" font-size="8.4" textLength="13.45" lengthAdjust="spacingAndGlyphs">168</text><path d="M498.05 569.8V572.8" stroke="#222" stroke-width="1.1"/><text x="491.32" y="583.70" font-size="8.4" textLength="13.45" lengthAdjust="spacingAndGlyphs">180</text><text x="280.20" y="596.50" font-size="9.3" textLength="21.50" lengthAdjust="spacingAndGlyphs" stroke="#231f20" stroke-width="0.45">Months</text><text transform="translate(56.6 471) rotate(-90)" x="-33.4" y="0" font-size="8.3" textLength="66.8" lengthAdjust="spacingAndGlyphs" stroke="#231f20" stroke-width="0.3">Probability of no event</text><path d="M80.5 470.25H500" stroke="#BDBDBD" stroke-width="0.9" stroke-dasharray="3.2 2.6"/>
<g fill="none" stroke-width="1">
<path d="M92.3 374.1H94.44V374.5H96.58V374.9H98.72V375.3H100.86V375.7H103V376.1H104.75V377.25H106.5V378.4H108.5V378.82H110.5V379.25H112.5V379.68H114.5V380.1H116.85V381.85H119.2V383.6H121.5V384.75H123.8V385.9H126.1V387.05H128.4V388.2H130.7V389.53H133V390.87H135.3V392.2H137.2V392.97H139.1V393.73H141V394.5H143.35V397.1H145.7V399.7H148.25V401.95H150.8V404.2H152.7V405.37H154.6V406.53H156.5V407.7H158.82V408.62H161.14V409.54H163.46V410.46H165.78V411.38H168.1V412.3H170.4V413.75H172.7V415.2H175V416.65H177.3V418.1H179.6V419.8H181.9V421.5H184.2V427.3H186.53V428.83H188.87V430.37H191.2V431.9H193.1V433.07H195V434.23H196.9V435.4H200V437.3H201.75V439.3H203.5V441.3H205.4V443.03H207.3V444.77H209.2V446.5H211.5V448.85H213.8V451.2H216.13V452.33H218.47V453.47H220.8V454.6H223.1V455.77H225.4V456.93H227.7V458.1H229.63V458.87H231.57V459.63H233.5V460.4H235.2V462.7H236.9V465H239.2V465.85H241.5V466.7H243.65V467.5H245.8V468.3H247.5V469.75H249.2V471.2H250.95V472.9H252.7V474.6H255V476.35H257.3V478.1H259.6V479.8H261.9V481.5H264.2V482.65H266.5V483.8H268.85V485H271.2V486.2H273.5V489.8H312.3V496.2H420.6" stroke="#7A3552" stroke-dasharray="3.3 2.6"/>
<path d="M92.3 374.1H94.7V375.73H97.1V377.37H99.5V379H101.53V380H103.55V381H105.57V382H107.6V383H109.9V384.17H112.2V385.33H114.5V386.5H116.43V387.83H118.37V389.17H120.3V390.5H122.2V391.27H124.1V392.03H126V392.8H128.05V394.1H130.1V395.4H132.15V396.7H134.2V398H136.13V398.97H138.07V399.93H140V400.9H142.5V402.55H145V404.2H148V405H150.12V406.55H152.25V408.1H154.38V409.65H156.5V411.2H158.82V412.62H161.15V414.05H163.48V415.47H165.8V416.9H167.8V417.77H169.8V418.65H171.8V419.52H173.8V420.4H175.73V421.1H177.67V421.8H179.6V422.5H181.74V422.54H183.89V422.59H186.03V422.63H188.17V422.67H190.31V422.71H192.46V422.76H194.6V422.8H196.53V423.67H198.47V424.53H200.4V425.4H203.1V426.15H205.8V426.9H207.7V427.87H209.6V428.83H211.5V429.8H213.25V431.55H215V433.3H217.03V434.02H219.05V434.75H221.07V435.48H223.1V436.2H225.4V436.97H227.7V437.73H230V438.5H232.3V440.2H234.6V441.9H236.53V442.43H238.47V442.97H240.4V443.5H242.5V443.6H244.6V443.7H245.8V447.5H247.8V447.93H249.8V448.35H251.8V448.77H253.8V449.2H256.15V449.8H258.5V450.4H260.5V450.55H262.5V450.7H264.5V450.85H266.5V451H268.25V451.85H270V452.7H272.3V452.85H274.6V453H276.9V453.15H279.2V453.3H280.4V455H282.1V456.75H283.8V458.5H286.2V461.3H286.7V470.2H413.3V502.3H477V566.4" stroke="#EFA640" stroke-width="1.1"/>
</g>
<path d="M93.55 375.94h2.9M95 374.49v2.9" stroke="#35301f" stroke-width="0.8"/><path d="M95.25 377.09h2.9M96.7 375.64v2.9" stroke="#35301f" stroke-width="0.8"/><path d="M96.95 378.25h2.9M98.4 376.8v2.9" stroke="#35301f" stroke-width="0.8"/><path d="M98.65 379.3h2.9M100.1 377.85v2.9" stroke="#35301f" stroke-width="0.8"/><path d="M100.35 380.14h2.9M101.8 378.69v2.9" stroke="#35301f" stroke-width="0.8"/><path d="M102.05 380.98h2.9M103.5 379.53v2.9" stroke="#35301f" stroke-width="0.8"/><path d="M103.75 381.81h2.9M105.2 380.36v2.9" stroke="#35301f" stroke-width="0.8"/><path d="M105.45 382.65h2.9M106.9 381.2v2.9" stroke="#35301f" stroke-width="0.8"/><path d="M107.15 383.51h2.9M108.6 382.06v2.9" stroke="#35301f" stroke-width="0.8"/><path d="M108.85 384.37h2.9M110.3 382.92v2.9" stroke="#35301f" stroke-width="0.8"/><path d="M110.55 385.23h2.9M112 383.78v2.9" stroke="#35301f" stroke-width="0.8"/><path d="M112.25 386.09h2.9M113.7 384.64v2.9" stroke="#35301f" stroke-width="0.8"/><path d="M113.95 387.12h2.9M115.4 385.67v2.9" stroke="#35301f" stroke-width="0.8"/><path d="M115.65 388.29h2.9M117.1 386.84v2.9" stroke="#35301f" stroke-width="0.8"/><path d="M117.35 389.47h2.9M118.8 388.02v2.9" stroke="#35301f" stroke-width="0.8"/><path d="M119.05 390.58h2.9M120.5 389.13v2.9" stroke="#35301f" stroke-width="0.8"/><path d="M120.75 391.27h2.9M122.2 389.82v2.9" stroke="#35301f" stroke-width="0.8"/><path d="M122.45 391.95h2.9M123.9 390.5v2.9" stroke="#35301f" stroke-width="0.8"/><path d="M124.15 392.64h2.9M125.6 391.19v2.9" stroke="#35301f" stroke-width="0.8"/><path d="M125.85 393.62h2.9M127.3 392.17v2.9" stroke="#35301f" stroke-width="0.8"/><path d="M127.55 394.7h2.9M129 393.25v2.9" stroke="#35301f" stroke-width="0.8"/><path d="M129.25 395.78h2.9M130.7 394.33v2.9" stroke="#35301f" stroke-width="0.8"/><path d="M130.95 396.86h2.9M132.4 395.41v2.9" stroke="#35301f" stroke-width="0.8"/><path d="M132.65 397.94h2.9M134.1 396.49v2.9" stroke="#35301f" stroke-width="0.8"/><path d="M134.35 398.8h2.9M135.8 397.35v2.9" stroke="#35301f" stroke-width="0.8"/><path d="M136.05 399.65h2.9M137.5 398.2v2.9" stroke="#35301f" stroke-width="0.8"/><path d="M137.75 400.5h2.9M139.2 399.05v2.9" stroke="#35301f" stroke-width="0.8"/><path d="M139.45 401.49h2.9M140.9 400.04v2.9" stroke="#35301f" stroke-width="0.8"/><path d="M141.15 402.62h2.9M142.6 401.17v2.9" stroke="#35301f" stroke-width="0.8"/><path d="M142.85 403.74h2.9M144.3 402.29v2.9" stroke="#35301f" stroke-width="0.8"/><path d="M144.55 404.47h2.9M146 403.02v2.9" stroke="#35301f" stroke-width="0.8"/><path d="M146.25 404.92h2.9M147.7 403.47v2.9" stroke="#35301f" stroke-width="0.8"/><path d="M147.95 406.02h2.9M149.4 404.57v2.9" stroke="#35301f" stroke-width="0.8"/><path d="M149.65 407.26h2.9M151.1 405.81v2.9" stroke="#35301f" stroke-width="0.8"/><path d="M151.35 408.5h2.9M152.8 407.05v2.9" stroke="#35301f" stroke-width="0.8"/><path d="M153.05 409.74h2.9M154.5 408.29v2.9" stroke="#35301f" stroke-width="0.8"/><path d="M154.75 410.98h2.9M156.2 409.53v2.9" stroke="#35301f" stroke-width="0.8"/><path d="M156.45 412.06h2.9M157.9 410.61v2.9" stroke="#35301f" stroke-width="0.8"/><path d="M158.15 413.1h2.9M159.6 411.65v2.9" stroke="#35301f" stroke-width="0.8"/><path d="M159.85 414.14h2.9M161.3 412.69v2.9" stroke="#35301f" stroke-width="0.8"/><path d="M161.55 415.18h2.9M163 413.73v2.9" stroke="#35301f" stroke-width="0.8"/><path d="M163.25 416.23h2.9M164.7 414.78v2.9" stroke="#35301f" stroke-width="0.8"/><path d="M164.95 417.16h2.9M166.4 415.71v2.9" stroke="#35301f" stroke-width="0.8"/><path d="M166.65 417.91h2.9M168.1 416.46v2.9" stroke="#35301f" stroke-width="0.8"/><path d="M168.35 418.65h2.9M169.8 417.2v2.9" stroke="#35301f" stroke-width="0.8"/><path d="M170.05 419.39h2.9M171.5 417.94v2.9" stroke="#35301f" stroke-width="0.8"/><path d="M171.75 420.14h2.9M173.2 418.69v2.9" stroke="#35301f" stroke-width="0.8"/><path d="M173.45 420.8h2.9M174.9 419.35v2.9" stroke="#35301f" stroke-width="0.8"/><path d="M175.15 421.41h2.9M176.6 419.96v2.9" stroke="#35301f" stroke-width="0.8"/><path d="M176.85 422.03h2.9M178.3 420.58v2.9" stroke="#35301f" stroke-width="0.8"/><path d="M178.55 422.51h2.9M180 421.06v2.9" stroke="#35301f" stroke-width="0.8"/><path d="M180.25 422.54h2.9M181.7 421.09v2.9" stroke="#35301f" stroke-width="0.8"/><path d="M181.95 422.58h2.9M183.4 421.13v2.9" stroke="#35301f" stroke-width="0.8"/><path d="M183.65 422.61h2.9M185.1 421.16v2.9" stroke="#35301f" stroke-width="0.8"/><path d="M185.35 422.64h2.9M186.8 421.19v2.9" stroke="#35301f" stroke-width="0.8"/><path d="M187.05 422.68h2.9M188.5 421.23v2.9" stroke="#35301f" stroke-width="0.8"/><path d="M188.75 422.71h2.9M190.2 421.26v2.9" stroke="#35301f" stroke-width="0.8"/><path d="M190.45 422.75h2.9M191.9 421.3v2.9" stroke="#35301f" stroke-width="0.8"/><path d="M192.15 422.78h2.9M193.6 421.33v2.9" stroke="#35301f" stroke-width="0.8"/><path d="M193.85 423.11h2.9M195.3 421.66v2.9" stroke="#35301f" stroke-width="0.8"/><path d="M195.55 423.88h2.9M197 422.43v2.9" stroke="#35301f" stroke-width="0.8"/><path d="M197.25 424.64h2.9M198.7 423.19v2.9" stroke="#35301f" stroke-width="0.8"/><path d="M198.95 425.4h2.9M200.4 423.95v2.9" stroke="#35301f" stroke-width="0.8"/><path d="M200.65 425.87h2.9M202.1 424.42v2.9" stroke="#35301f" stroke-width="0.8"/><path d="M202.35 426.34h2.9M203.8 424.89v2.9" stroke="#35301f" stroke-width="0.8"/><path d="M204.1 427h3.8M206 425.1v3.8" stroke="#2a2a2a" stroke-width="0.85"/><path d="M206.8 428.38h3.8M208.7 426.48v3.8" stroke="#2a2a2a" stroke-width="0.85"/><path d="M209.5 429.75h3.8M211.4 427.85v3.8" stroke="#2a2a2a" stroke-width="0.85"/><path d="M212.2 432.4h3.8M214.1 430.5v3.8" stroke="#2a2a2a" stroke-width="0.85"/><path d="M214.9 433.94h3.8M216.8 432.04v3.8" stroke="#2a2a2a" stroke-width="0.85"/><path d="M217.6 434.91h3.8M219.5 433.01v3.8" stroke="#2a2a2a" stroke-width="0.85"/><path d="M220.3 435.88h3.8M222.2 433.98v3.8" stroke="#2a2a2a" stroke-width="0.85"/><path d="M223 436.8h3.8M224.9 434.9v3.8" stroke="#2a2a2a" stroke-width="0.85"/><path d="M225.7 437.7h3.8M227.6 435.8v3.8" stroke="#2a2a2a" stroke-width="0.85"/><path d="M228.4 438.72h3.8M230.3 436.82v3.8" stroke="#2a2a2a" stroke-width="0.85"/><path d="M231.1 440.72h3.8M233 438.82v3.8" stroke="#2a2a2a" stroke-width="0.85"/><path d="M233.8 442.2h3.8M235.7 440.3v3.8" stroke="#2a2a2a" stroke-width="0.85"/><path d="M236.5 442.95h3.8M238.4 441.05v3.8" stroke="#2a2a2a" stroke-width="0.85"/><path d="M239.2 443.53h3.8M241.1 441.63v3.8" stroke="#2a2a2a" stroke-width="0.85"/><path d="M241.9 443.66h3.8M243.8 441.76v3.8" stroke="#2a2a2a" stroke-width="0.85"/><path d="M244.6 447.65h3.8M246.5 445.75v3.8" stroke="#2a2a2a" stroke-width="0.85"/><path d="M247.3 448.22h3.8M249.2 446.32v3.8" stroke="#2a2a2a" stroke-width="0.85"/><path d="M250 448.8h3.8M251.9 446.9v3.8" stroke="#2a2a2a" stroke-width="0.85"/><path d="M252.7 449.4h3.8M254.6 447.5v3.8" stroke="#2a2a2a" stroke-width="0.85"/><path d="M255.4 450.09h3.8M257.3 448.19v3.8" stroke="#2a2a2a" stroke-width="0.85"/><path d="M258.1 450.51h3.8M260 448.61v3.8" stroke="#2a2a2a" stroke-width="0.85"/><path d="M260.8 450.71h3.8M262.7 448.81v3.8" stroke="#2a2a2a" stroke-width="0.85"/><path d="M263.5 450.92h3.8M265.4 449.02v3.8" stroke="#2a2a2a" stroke-width="0.85"/><path d="M266.2 451.78h3.8M268.1 449.88v3.8" stroke="#2a2a2a" stroke-width="0.85"/><path d="M268.9 452.75h3.8M270.8 450.85v3.8" stroke="#2a2a2a" stroke-width="0.85"/><path d="M271.6 452.93h3.8M273.5 451.03v3.8" stroke="#2a2a2a" stroke-width="0.85"/><path d="M274.3 453.1h3.8M276.2 451.2v3.8" stroke="#2a2a2a" stroke-width="0.85"/><path d="M277 453.28h3.8M278.9 451.38v3.8" stroke="#2a2a2a" stroke-width="0.85"/><path d="M279.7 456.24h3.8M281.6 454.34v3.8" stroke="#2a2a2a" stroke-width="0.85"/><path d="M287.3 470.2h4.4M289.5 468v4.4" stroke="#2b2b2b" stroke-width="0.85"/><path d="M295.5 470.2h4.4M297.7 468v4.4" stroke="#2b2b2b" stroke-width="0.85"/><path d="M297.3 470.2h4.4M299.5 468v4.4" stroke="#2b2b2b" stroke-width="0.85"/><path d="M299.3 470.2h4.4M301.5 468v4.4" stroke="#2b2b2b" stroke-width="0.85"/><path d="M301.3 470.2h4.4M303.5 468v4.4" stroke="#2b2b2b" stroke-width="0.85"/><path d="M303.3 470.2h4.4M305.5 468v4.4" stroke="#2b2b2b" stroke-width="0.85"/><path d="M305.3 470.2h4.4M307.5 468v4.4" stroke="#2b2b2b" stroke-width="0.85"/><path d="M316.3 470.2h4.4M318.5 468v4.4" stroke="#2b2b2b" stroke-width="0.85"/><path d="M325.5 470.2h4.4M327.7 468v4.4" stroke="#2b2b2b" stroke-width="0.85"/><path d="M327.3 470.2h4.4M329.5 468v4.4" stroke="#2b2b2b" stroke-width="0.85"/><path d="M337.8 470.2h4.4M340 468v4.4" stroke="#2b2b2b" stroke-width="0.85"/><path d="M351.6 470.2h4.4M353.8 468v4.4" stroke="#2b2b2b" stroke-width="0.85"/><path d="M353.8 470.2h4.4M356 468v4.4" stroke="#2b2b2b" stroke-width="0.85"/><path d="M364.6 470.2h4.4M366.8 468v4.4" stroke="#2b2b2b" stroke-width="0.85"/><path d="M387 470.2h4.4M389.2 468v4.4" stroke="#2b2b2b" stroke-width="0.85"/><path d="M442.4 502.3h4.4M444.6 500.1v4.4" stroke="#2b2b2b" stroke-width="0.85"/><path d="M93.55 374.6h2.9M95 373.15v2.9" stroke="#3d2230" stroke-width="0.8"/><path d="M95.25 374.92h2.9M96.7 373.47v2.9" stroke="#3d2230" stroke-width="0.8"/><path d="M96.95 375.24h2.9M98.4 373.79v2.9" stroke="#3d2230" stroke-width="0.8"/><path d="M98.65 375.56h2.9M100.1 374.11v2.9" stroke="#3d2230" stroke-width="0.8"/><path d="M100.35 375.88h2.9M101.8 374.43v2.9" stroke="#3d2230" stroke-width="0.8"/><path d="M102.05 376.43h2.9M103.5 374.98v2.9" stroke="#3d2230" stroke-width="0.8"/><path d="M103.75 377.55h2.9M105.2 376.1v2.9" stroke="#3d2230" stroke-width="0.8"/><path d="M105.45 378.48h2.9M106.9 377.03v2.9" stroke="#3d2230" stroke-width="0.8"/><path d="M107.15 378.85h2.9M108.6 377.4v2.9" stroke="#3d2230" stroke-width="0.8"/><path d="M108.85 379.21h2.9M110.3 377.76v2.9" stroke="#3d2230" stroke-width="0.8"/><path d="M110.55 379.57h2.9M112 378.12v2.9" stroke="#3d2230" stroke-width="0.8"/><path d="M112.25 379.93h2.9M113.7 378.48v2.9" stroke="#3d2230" stroke-width="0.8"/><path d="M113.95 380.77h2.9M115.4 379.32v2.9" stroke="#3d2230" stroke-width="0.8"/><path d="M115.65 382.04h2.9M117.1 380.59v2.9" stroke="#3d2230" stroke-width="0.8"/><path d="M117.35 383.3h2.9M118.8 381.85v2.9" stroke="#3d2230" stroke-width="0.8"/><path d="M119.05 384.25h2.9M120.5 382.8v2.9" stroke="#3d2230" stroke-width="0.8"/><path d="M120.75 385.1h2.9M122.2 383.65v2.9" stroke="#3d2230" stroke-width="0.8"/><path d="M122.45 385.95h2.9M123.9 384.5v2.9" stroke="#3d2230" stroke-width="0.8"/><path d="M124.15 386.8h2.9M125.6 385.35v2.9" stroke="#3d2230" stroke-width="0.8"/><path d="M125.85 387.65h2.9M127.3 386.2v2.9" stroke="#3d2230" stroke-width="0.8"/><path d="M127.55 388.55h2.9M129 387.1v2.9" stroke="#3d2230" stroke-width="0.8"/><path d="M129.25 389.53h2.9M130.7 388.08v2.9" stroke="#3d2230" stroke-width="0.8"/><path d="M130.95 390.52h2.9M132.4 389.07v2.9" stroke="#3d2230" stroke-width="0.8"/><path d="M132.65 391.5h2.9M134.1 390.05v2.9" stroke="#3d2230" stroke-width="0.8"/><path d="M134.35 392.4h2.9M135.8 390.95v2.9" stroke="#3d2230" stroke-width="0.8"/><path d="M136.05 393.09h2.9M137.5 391.64v2.9" stroke="#3d2230" stroke-width="0.8"/><path d="M137.75 393.77h2.9M139.2 392.32v2.9" stroke="#3d2230" stroke-width="0.8"/><path d="M139.45 394.46h2.9M140.9 393.01v2.9" stroke="#3d2230" stroke-width="0.8"/><path d="M141.15 396.27h2.9M142.6 394.82v2.9" stroke="#3d2230" stroke-width="0.8"/><path d="M142.85 398.15h2.9M144.3 396.7v2.9" stroke="#3d2230" stroke-width="0.8"/><path d="M144.55 399.96h2.9M146 398.51v2.9" stroke="#3d2230" stroke-width="0.8"/><path d="M146.25 401.46h2.9M147.7 400.01v2.9" stroke="#3d2230" stroke-width="0.8"/><path d="M147.95 402.96h2.9M149.4 401.51v2.9" stroke="#3d2230" stroke-width="0.8"/><path d="M149.65 404.38h2.9M151.1 402.93v2.9" stroke="#3d2230" stroke-width="0.8"/><path d="M151.35 405.43h2.9M152.8 403.98v2.9" stroke="#3d2230" stroke-width="0.8"/><path d="M153.05 406.47h2.9M154.5 405.02v2.9" stroke="#3d2230" stroke-width="0.8"/><path d="M154.75 407.52h2.9M156.2 406.07v2.9" stroke="#3d2230" stroke-width="0.8"/><path d="M156.45 408.26h2.9M157.9 406.81v2.9" stroke="#3d2230" stroke-width="0.8"/><path d="M158.15 408.93h2.9M159.6 407.48v2.9" stroke="#3d2230" stroke-width="0.8"/><path d="M159.85 409.6h2.9M161.3 408.15v2.9" stroke="#3d2230" stroke-width="0.8"/><path d="M161.55 410.28h2.9M163 408.83v2.9" stroke="#3d2230" stroke-width="0.8"/><path d="M163.25 410.95h2.9M164.7 409.5v2.9" stroke="#3d2230" stroke-width="0.8"/><path d="M164.95 411.63h2.9M166.4 410.18v2.9" stroke="#3d2230" stroke-width="0.8"/><path d="M166.65 412.3h2.9M168.1 410.85v2.9" stroke="#3d2230" stroke-width="0.8"/><path d="M168.35 413.37h2.9M169.8 411.92v2.9" stroke="#3d2230" stroke-width="0.8"/><path d="M170.05 414.44h2.9M171.5 412.99v2.9" stroke="#3d2230" stroke-width="0.8"/><path d="M171.75 415.52h2.9M173.2 414.07v2.9" stroke="#3d2230" stroke-width="0.8"/><path d="M173.45 416.59h2.9M174.9 415.14v2.9" stroke="#3d2230" stroke-width="0.8"/><path d="M175.15 417.66h2.9M176.6 416.21v2.9" stroke="#3d2230" stroke-width="0.8"/><path d="M176.85 418.84h2.9M178.3 417.39v2.9" stroke="#3d2230" stroke-width="0.8"/><path d="M178.55 420.1h2.9M180 418.65v2.9" stroke="#3d2230" stroke-width="0.8"/><path d="M180.25 421.35h2.9M181.7 419.9v2.9" stroke="#3d2230" stroke-width="0.8"/><path d="M181.95 425.28h2.9M183.4 423.83v2.9" stroke="#3d2230" stroke-width="0.8"/><path d="M183.65 427.89h2.9M185.1 426.44v2.9" stroke="#3d2230" stroke-width="0.8"/><path d="M185.35 429.01h2.9M186.8 427.56v2.9" stroke="#3d2230" stroke-width="0.8"/><path d="M187.05 430.13h2.9M188.5 428.68v2.9" stroke="#3d2230" stroke-width="0.8"/><path d="M188.75 431.24h2.9M190.2 429.79v2.9" stroke="#3d2230" stroke-width="0.8"/><path d="M190.45 432.33h2.9M191.9 430.88v2.9" stroke="#3d2230" stroke-width="0.8"/><path d="M192.15 433.37h2.9M193.6 431.92v2.9" stroke="#3d2230" stroke-width="0.8"/><path d="M193.85 434.42h2.9M195.3 432.97v2.9" stroke="#3d2230" stroke-width="0.8"/><path d="M195.55 435.46h2.9M197 434.01v2.9" stroke="#3d2230" stroke-width="0.8"/><path d="M197.25 436.5h2.9M198.7 435.05v2.9" stroke="#3d2230" stroke-width="0.8"/><path d="M198.95 437.76h2.9M200.4 436.31v2.9" stroke="#3d2230" stroke-width="0.8"/><path d="M200.65 439.7h2.9M202.1 438.25v2.9" stroke="#3d2230" stroke-width="0.8"/><path d="M202.35 441.57h2.9M203.8 440.12v2.9" stroke="#3d2230" stroke-width="0.8"/><path d="M204.1 443.58h3.8M206 441.68v3.8" stroke="#2a2a2a" stroke-width="0.85"/><path d="M206.8 446.04h3.8M208.7 444.14v3.8" stroke="#2a2a2a" stroke-width="0.85"/><path d="M209.5 448.75h3.8M211.4 446.85v3.8" stroke="#2a2a2a" stroke-width="0.85"/><path d="M212.2 451.35h3.8M214.1 449.45v3.8" stroke="#2a2a2a" stroke-width="0.85"/><path d="M214.9 452.66h3.8M216.8 450.76v3.8" stroke="#2a2a2a" stroke-width="0.85"/><path d="M217.6 453.97h3.8M219.5 452.07v3.8" stroke="#2a2a2a" stroke-width="0.85"/><path d="M220.3 455.31h3.8M222.2 453.41v3.8" stroke="#2a2a2a" stroke-width="0.85"/><path d="M223 456.68h3.8M224.9 454.78v3.8" stroke="#2a2a2a" stroke-width="0.85"/><path d="M225.7 458.05h3.8M227.6 456.15v3.8" stroke="#2a2a2a" stroke-width="0.85"/><path d="M228.4 459.13h3.8M230.3 457.23v3.8" stroke="#2a2a2a" stroke-width="0.85"/><path d="M231.1 460.2h3.8M233 458.3v3.8" stroke="#2a2a2a" stroke-width="0.85"/><path d="M233.8 463.38h3.8M235.7 461.48v3.8" stroke="#2a2a2a" stroke-width="0.85"/><path d="M236.5 465.55h3.8M238.4 463.65v3.8" stroke="#2a2a2a" stroke-width="0.85"/><path d="M239.2 466.55h3.8M241.1 464.65v3.8" stroke="#2a2a2a" stroke-width="0.85"/><path d="M241.9 467.56h3.8M243.8 465.66v3.8" stroke="#2a2a2a" stroke-width="0.85"/><path d="M244.6 468.9h3.8M246.5 467v3.8" stroke="#2a2a2a" stroke-width="0.85"/><path d="M247.3 471.2h3.8M249.2 469.3v3.8" stroke="#2a2a2a" stroke-width="0.85"/><path d="M250 473.82h3.8M251.9 471.92v3.8" stroke="#2a2a2a" stroke-width="0.85"/><path d="M252.7 476.05h3.8M254.6 474.15v3.8" stroke="#2a2a2a" stroke-width="0.85"/><path d="M255.4 478.1h3.8M257.3 476.2v3.8" stroke="#2a2a2a" stroke-width="0.85"/><path d="M258.1 480.1h3.8M260 478.2v3.8" stroke="#2a2a2a" stroke-width="0.85"/><path d="M260.8 481.9h3.8M262.7 480v3.8" stroke="#2a2a2a" stroke-width="0.85"/><path d="M263.5 483.25h3.8M265.4 481.35v3.8" stroke="#2a2a2a" stroke-width="0.85"/><path d="M266.2 484.62h3.8M268.1 482.72v3.8" stroke="#2a2a2a" stroke-width="0.85"/><path d="M268.9 486h3.8M270.8 484.1v3.8" stroke="#2a2a2a" stroke-width="0.85"/><path d="M274.8 489.8h4.4M277 487.6v4.4" stroke="#2b2b2b" stroke-width="0.85"/><path d="M277.8 489.8h4.4M280 487.6v4.4" stroke="#2b2b2b" stroke-width="0.85"/><path d="M279.8 489.8h4.4M282 487.6v4.4" stroke="#2b2b2b" stroke-width="0.85"/><path d="M281.8 489.8h4.4M284 487.6v4.4" stroke="#2b2b2b" stroke-width="0.85"/><path d="M283.8 489.8h4.4M286 487.6v4.4" stroke="#2b2b2b" stroke-width="0.85"/><path d="M286.3 489.8h4.4M288.5 487.6v4.4" stroke="#2b2b2b" stroke-width="0.85"/><path d="M290.8 489.8h4.4M293 487.6v4.4" stroke="#2b2b2b" stroke-width="0.85"/><path d="M299.3 489.8h4.4M301.5 487.6v4.4" stroke="#2b2b2b" stroke-width="0.85"/><path d="M302.8 489.8h4.4M305 487.6v4.4" stroke="#2b2b2b" stroke-width="0.85"/><path d="M305.8 489.8h4.4M308 487.6v4.4" stroke="#2b2b2b" stroke-width="0.85"/><path d="M311.8 496.2h4.4M314 494v4.4" stroke="#2b2b2b" stroke-width="0.85"/><path d="M314.8 496.2h4.4M317 494v4.4" stroke="#2b2b2b" stroke-width="0.85"/><path d="M317.8 496.2h4.4M320 494v4.4" stroke="#2b2b2b" stroke-width="0.85"/><path d="M320.8 496.2h4.4M323 494v4.4" stroke="#2b2b2b" stroke-width="0.85"/><path d="M323.8 496.2h4.4M326 494v4.4" stroke="#2b2b2b" stroke-width="0.85"/><path d="M339.3 496.2h4.4M341.5 494v4.4" stroke="#2b2b2b" stroke-width="0.85"/><path d="M341.5 496.2h4.4M343.7 494v4.4" stroke="#2b2b2b" stroke-width="0.85"/><path d="M370.1 496.2h4.4M372.3 494v4.4" stroke="#2b2b2b" stroke-width="0.85"/><path d="M384.6 496.2h4.4M386.8 494v4.4" stroke="#2b2b2b" stroke-width="0.85"/><path d="M394.1 496.2h4.4M396.3 494v4.4" stroke="#2b2b2b" stroke-width="0.85"/><path d="M418.4 496.2h4.4M420.6 494v4.4" stroke="#2b2b2b" stroke-width="0.85"/>
<path d="M461.7 375.2h4.8M464.1 372.8v4.8" stroke="#222" stroke-width="0.9"/><text x="469.20" y="378.00" font-size="8.4" textLength="32.00" lengthAdjust="spacingAndGlyphs">Censored</text><path d="M438.3 386.25H465.5" stroke="#EBB77C" stroke-width="2"/><text x="469.20" y="389.25" font-size="8.4" textLength="18.47" lengthAdjust="spacingAndGlyphs">1 LoT</text><path d="M438.3 397.5H465.5" stroke="#C04A6A" stroke-width="1" stroke-dasharray="3 2.6"/><text x="469.20" y="400.50" font-size="8.4" textLength="25.50" lengthAdjust="spacingAndGlyphs">2+ LoTs</text>
<text x="22.10" y="608.70" font-size="8.4" textLength="52.30" lengthAdjust="spacingAndGlyphs">Patients at risk*</text><text x="48.78" y="620.70" font-size="8.4" textLength="26.62" lengthAdjust="spacingAndGlyphs">1 LoT**</text><text x="85.64" y="620.70" font-size="8.4" textLength="13.31" lengthAdjust="spacingAndGlyphs">626</text><text x="112.69" y="620.70" font-size="8.4" textLength="13.31" lengthAdjust="spacingAndGlyphs">517</text><text x="139.74" y="620.70" font-size="8.4" textLength="13.31" lengthAdjust="spacingAndGlyphs">343</text><text x="166.79" y="620.70" font-size="8.4" textLength="13.31" lengthAdjust="spacingAndGlyphs">221</text><text x="193.84" y="620.70" font-size="8.4" textLength="13.31" lengthAdjust="spacingAndGlyphs">139</text><text x="223.11" y="620.70" font-size="8.4" textLength="8.88" lengthAdjust="spacingAndGlyphs">96</text><text x="250.16" y="620.70" font-size="8.4" textLength="8.88" lengthAdjust="spacingAndGlyphs">62</text><text x="277.21" y="620.70" font-size="8.4" textLength="8.88" lengthAdjust="spacingAndGlyphs">26</text><text x="304.26" y="620.70" font-size="8.4" textLength="8.88" lengthAdjust="spacingAndGlyphs">12</text><text x="333.53" y="620.70" font-size="8.4" textLength="4.44" lengthAdjust="spacingAndGlyphs">8</text><text x="360.58" y="620.70" font-size="8.4" textLength="4.44" lengthAdjust="spacingAndGlyphs">5</text><text x="387.63" y="620.70" font-size="8.4" textLength="4.44" lengthAdjust="spacingAndGlyphs">3</text><text x="414.68" y="620.70" font-size="8.4" textLength="4.44" lengthAdjust="spacingAndGlyphs">2</text><text x="441.73" y="620.70" font-size="8.4" textLength="4.44" lengthAdjust="spacingAndGlyphs">1</text><text x="468.78" y="620.70" font-size="8.4" textLength="4.44" lengthAdjust="spacingAndGlyphs">1</text><text x="495.83" y="620.70" font-size="8.4" textLength="4.44" lengthAdjust="spacingAndGlyphs">0</text><text x="47.23" y="631.95" font-size="8.4" textLength="28.17" lengthAdjust="spacingAndGlyphs">2+ LoTs</text><text x="85.64" y="631.95" font-size="8.4" textLength="13.31" lengthAdjust="spacingAndGlyphs">370</text><text x="112.69" y="631.95" font-size="8.4" textLength="13.31" lengthAdjust="spacingAndGlyphs">339</text><text x="139.74" y="631.95" font-size="8.4" textLength="13.31" lengthAdjust="spacingAndGlyphs">267</text><text x="166.79" y="631.95" font-size="8.4" textLength="13.31" lengthAdjust="spacingAndGlyphs">182</text><text x="194.14" y="631.95" font-size="8.4" textLength="12.72" lengthAdjust="spacingAndGlyphs">114</text><text x="223.11" y="631.95" font-size="8.4" textLength="8.88" lengthAdjust="spacingAndGlyphs">75</text><text x="250.16" y="631.95" font-size="8.4" textLength="8.88" lengthAdjust="spacingAndGlyphs">46</text><text x="277.21" y="631.95" font-size="8.4" textLength="8.88" lengthAdjust="spacingAndGlyphs">27</text><text x="304.26" y="631.95" font-size="8.4" textLength="8.88" lengthAdjust="spacingAndGlyphs">14</text><text x="333.53" y="631.95" font-size="8.4" textLength="4.44" lengthAdjust="spacingAndGlyphs">7</text><text x="360.58" y="631.95" font-size="8.4" textLength="4.44" lengthAdjust="spacingAndGlyphs">4</text><text x="387.63" y="631.95" font-size="8.4" textLength="4.44" lengthAdjust="spacingAndGlyphs">2</text><text x="414.68" y="631.95" font-size="8.4" textLength="4.44" lengthAdjust="spacingAndGlyphs">1</text><text x="441.73" y="631.95" font-size="8.4" textLength="4.44" lengthAdjust="spacingAndGlyphs">0</text><text x="468.78" y="631.95" font-size="8.4" textLength="4.44" lengthAdjust="spacingAndGlyphs">0</text><text x="495.83" y="631.95" font-size="8.4" textLength="4.44" lengthAdjust="spacingAndGlyphs">0</text>
<text x="226.00" y="648.60" font-size="10.3" textLength="129.30" lengthAdjust="spacingAndGlyphs">Survival Estimate (%) (95% CI)</text><text x="80.90" y="669.90" font-size="8.4" textLength="23.40" lengthAdjust="spacingAndGlyphs">Events</text><text x="144.80" y="669.70" font-size="8.4" textLength="31.60" lengthAdjust="spacingAndGlyphs">Week 24</text><text x="224.80" y="669.70" font-size="8.4" textLength="31.60" lengthAdjust="spacingAndGlyphs">Week 52</text><text x="304.00" y="669.70" font-size="8.4" textLength="36.40" lengthAdjust="spacingAndGlyphs">Week 104</text><text x="384.90" y="669.70" font-size="8.4" textLength="36.60" lengthAdjust="spacingAndGlyphs">Week 156</text><text x="454.40" y="659.90" font-size="8.4" textLength="57.60" lengthAdjust="spacingAndGlyphs">Median (months)</text><text x="467.20" y="670.00" font-size="8.4" textLength="32.00" lengthAdjust="spacingAndGlyphs">(95% CI)</text><text x="21.23" y="681.50" font-size="8.4" textLength="54.07" lengthAdjust="spacingAndGlyphs">1 LoT (n = 626)</text><text x="85.87" y="681.50" font-size="8.4" textLength="13.45" lengthAdjust="spacingAndGlyphs">141</text><text x="130.86" y="681.50" font-size="8.4" textLength="59.49" lengthAdjust="spacingAndGlyphs">95.9 (94.0–97.2)</text><text x="210.86" y="681.50" font-size="8.4" textLength="59.49" lengthAdjust="spacingAndGlyphs">92.6 (90.2–94.5)</text><text x="292.46" y="681.50" font-size="8.4" textLength="59.49" lengthAdjust="spacingAndGlyphs">84.4 (81.0–87.2)</text><text x="373.46" y="681.50" font-size="8.4" textLength="59.49" lengthAdjust="spacingAndGlyphs">78.5 (74.4–82.0)</text><text x="459.09" y="681.50" font-size="8.4" textLength="48.22" lengthAdjust="spacingAndGlyphs">142.3 (83.4–)</text><text x="13.41" y="692.55" font-size="8.4" textLength="61.89" lengthAdjust="spacingAndGlyphs">2+ LoTs (n = 370)</text><text x="85.87" y="692.55" font-size="8.4" textLength="13.45" lengthAdjust="spacingAndGlyphs">129</text><text x="130.86" y="692.55" font-size="8.4" textLength="59.49" lengthAdjust="spacingAndGlyphs">98.6 (96.8–99.4)</text><text x="210.86" y="692.55" font-size="8.4" textLength="59.49" lengthAdjust="spacingAndGlyphs">94.3 (91.3–96.2)</text><text x="292.46" y="692.55" font-size="8.4" textLength="59.49" lengthAdjust="spacingAndGlyphs">85.9 (81.7–89.2)</text><text x="373.46" y="692.55" font-size="8.4" textLength="59.49" lengthAdjust="spacingAndGlyphs">75.8 (70.6–80.2)</text><text x="453.46" y="692.55" font-size="8.4" textLength="59.49" lengthAdjust="spacingAndGlyphs">69.1 (59.4–77.7)</text>
<rect x="0.5" y="0.5" width="519" height="700" fill="none" stroke="#585858" stroke-width="1"/>
</svg></body></html>
